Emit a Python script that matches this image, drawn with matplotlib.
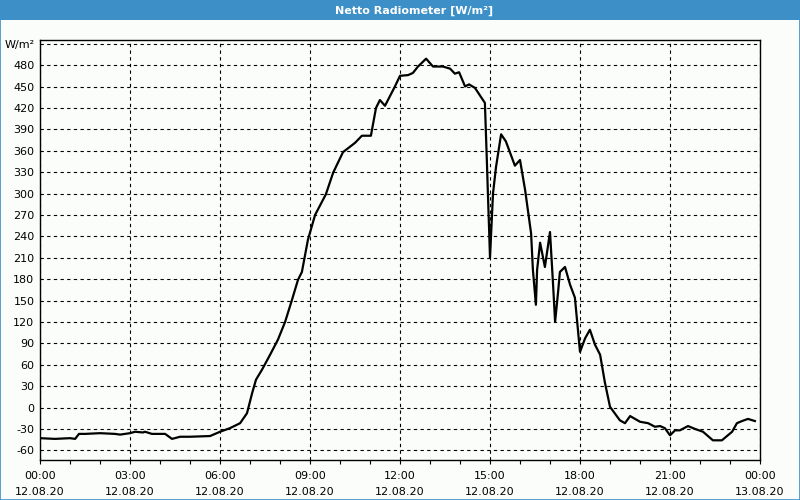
import matplotlib
matplotlib.use('Agg')
import matplotlib.pyplot as plt
from matplotlib.patches import Rectangle
from matplotlib.ticker import MultipleLocator

# Netto Radiometer readings, 12.08.20 (hours since midnight -> W/m²)
hours = [0, 0.5, 1.0, 1.17, 1.3, 1.5, 2.0, 2.5, 2.67, 3.0, 3.17, 3.43, 3.5, 3.73,
         4.17, 4.4, 4.67, 5.0, 5.67, 6.0, 6.33, 6.67, 6.9, 7.07, 7.2, 7.4, 7.67,
         7.93, 8.17, 8.4, 8.6, 8.73, 8.93, 9.17, 9.53, 9.77, 10.1, 10.5, 10.73,
         11.03, 11.2, 11.33, 11.5, 11.83, 12.0, 12.27, 12.43, 12.6, 12.87, 13.1,
         13.43, 13.67, 13.83, 13.97, 14.17, 14.3, 14.5, 14.83, 14.9, 14.93, 14.97,
         15.0, 15.05, 15.1, 15.2, 15.37, 15.53, 15.83, 16.0, 16.17, 16.37, 16.43,
         16.53, 16.57, 16.67, 16.83, 17.0, 17.1, 17.17, 17.27, 17.33, 17.5, 17.67,
         17.83, 18.0, 18.17, 18.33, 18.5, 18.67, 18.83, 19.0, 19.33, 19.5, 19.67,
         20.0, 20.27, 20.5, 20.67, 20.83, 21.0, 21.17, 21.33, 21.6, 21.83, 22.1,
         22.43, 22.73, 22.9, 23.07, 23.23, 23.4, 23.6, 23.83]
values = [-43, -44, -43, -44, -37, -37, -36, -37, -38, -36, -34, -35, -34, -37,
          -37, -44, -41, -41, -40, -34, -29, -22, -8, 20, 39, 53, 74,
          95, 120, 151, 179, 190, 235, 270, 299, 329, 358, 371, 381,
          381, 420, 431, 423, 450, 465, 466, 469, 478, 489, 478,
          478, 475, 468, 470, 450, 453, 448, 427, 340, 300, 250,
          210, 255, 300, 337, 383, 373, 339, 347, 305, 244, 193,
          144, 193, 231, 197, 246, 174, 120, 162, 190, 197, 172,
          154, 78, 97, 109, 88, 74, 35, 1, -18, -22, -12,
          -20, -22, -27, -26, -29, -39, -32, -32, -26, -30, -34,
          -46, -46, -40, -34, -22, -19, -16, -19]

x_ticks = [0, 3, 6, 9, 12, 15, 18, 21, 24]
x_labels = ['00:00\n12.08.20', '03:00\n12.08.20', '06:00\n12.08.20',
            '09:00\n12.08.20', '12:00\n12.08.20', '15:00\n12.08.20',
            '18:00\n12.08.20', '21:00\n12.08.20', '00:00\n13.08.20']
y_ticks = list(range(-60, 511, 30))
y_labels = [str(v) for v in y_ticks[:-1]] + ['W/m²']

title = 'Netto Radiometer [W/m²]'
bar_blue = '#3d8fc7'
bg = '#fbfdfb'

fig = plt.figure(figsize=(8, 5), dpi=100, facecolor=bg)

# title bar and window border
fig.patches.append(Rectangle((0, 0.96), 1, 0.04, transform=fig.transFigure,
                             facecolor=bar_blue, edgecolor='none', zorder=0))
fig.patches.append(Rectangle((0.0006, 0.001), 0.9988, 0.998, transform=fig.transFigure,
                             facecolor='none', edgecolor=bar_blue, lw=1.2, zorder=5))
fig.text(0.5175, 0.979, title, color='white', fontsize=8, fontweight='bold',
         ha='center', va='center')

ax = fig.add_axes([0.05, 0.08, 0.9, 0.84])
ax.set_facecolor(bg)
ax.plot(hours, values, color='black', lw=1.6, zorder=3)

ax.set_xlim(0, 24)
ax.set_ylim(-73.6, 515.2)

ax.set_xticks(x_ticks)
ax.set_xticklabels(x_labels, fontsize=8, linespacing=1.7)
ax.xaxis.set_minor_locator(MultipleLocator(1))
ax.tick_params(axis='x', which='both', direction='out', length=3, width=0.8, pad=5)

ax.set_yticks(y_ticks)
ax.set_yticklabels(y_labels, fontsize=8)
ax.tick_params(axis='y', length=0, pad=4)

ax.grid(True, which='major', color='black', linestyle=(0, (3, 3)), lw=0.8)

for s in ax.spines.values():
    s.set_linewidth(1.0)
    s.set_color('black')

fig.savefig('out.png', dpi=100, facecolor=bg)
